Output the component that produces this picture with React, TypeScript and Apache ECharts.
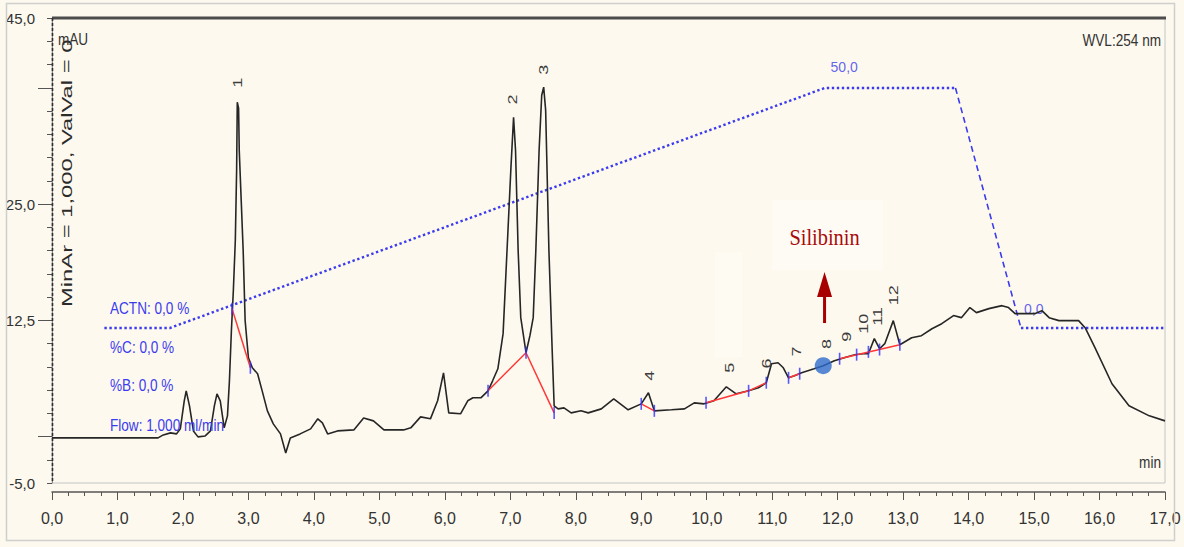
import { useEffect, useRef } from "react";
import * as echarts from "echarts";

// Detector trace (retention time in min, absorbance in mAU)
const retentionTimes = [
  0.0, 1.62, 1.7, 1.81, 1.9, 1.96, 2.02, 2.05, 2.1, 2.16,
  2.23, 2.34, 2.42, 2.48, 2.52, 2.57, 2.63, 2.68, 2.71, 2.74,
  2.77, 2.8, 2.82, 2.83, 2.85, 2.86, 2.89, 2.92, 2.95, 3.0,
  3.06, 3.14, 3.21, 3.29, 3.38, 3.49, 3.57, 3.64, 3.79, 3.95,
  4.06, 4.13, 4.21, 4.36, 4.61, 4.76, 4.91, 5.07, 5.37, 5.48,
  5.63, 5.78, 5.89, 5.98, 6.06, 6.24, 6.35, 6.43, 6.55, 6.66,
  6.73, 6.81, 6.89, 6.95, 7.01, 7.05, 7.08, 7.12, 7.16, 7.24,
  7.3, 7.35, 7.39, 7.44, 7.48, 7.51, 7.54, 7.59, 7.64, 7.67,
  7.73, 7.82, 7.93, 8.08, 8.19, 8.39, 8.58, 8.8, 9.0, 9.11,
  9.2, 9.46, 9.66, 9.81, 9.96, 10.11, 10.3, 10.45, 10.64, 10.79,
  10.91, 10.99, 11.09, 11.17, 11.25, 11.34, 11.45, 11.64, 11.78, 11.95,
  12.1, 12.26, 12.39, 12.47, 12.56, 12.64, 12.72, 12.85, 12.95, 13.13,
  13.28, 13.44, 13.59, 13.77, 13.89, 14.02, 14.12, 14.31, 14.51, 14.61,
  14.71, 14.86, 15.01, 15.12, 15.23, 15.38, 15.68, 15.78, 15.93, 16.19,
  16.45, 16.76, 17.0,
];
const absorbance = [
  -0.15, -0.15, 0.17, 0.39, 0.28, 0.82, 3.84, 4.91, 3.3, 0.6,
  -0.04, 0.06, 0.6, 3.3, 4.59, 3.84, 0.93, 2.22, 5.99, 11.38,
  15.69, 21.08, 28.62, 35.95, 35.3, 30.78, 25.39, 20.0, 12.46, 8.47,
  7.39, 6.75, 4.91, 2.76, 1.36, 0.28, -1.77, -0.15, 0.28, 0.82,
  1.9, 1.47, 0.28, 0.6, 0.71, 2.0, 1.68, 0.71, 0.71, 0.93,
  2.11, 1.9, 3.84, 6.85, 2.54, 2.44, 3.84, 4.16, 4.16, 4.91,
  5.99, 7.28, 11.06, 20.0, 28.94, 34.33, 30.78, 20.0, 12.78, 9.01,
  10.84, 12.78, 20.0, 30.78, 36.7, 37.57, 35.09, 20.0, 9.22, 3.3,
  2.97, 3.08, 2.54, 2.76, 2.54, 2.97, 4.05, 2.87, 3.51, 4.7,
  2.76, 2.87, 2.97, 3.62, 3.51, 3.84, 5.34, 4.59, 4.91, 5.24,
  5.78, 7.82, 7.93, 7.39, 6.31, 6.53, 6.85, 7.28, 7.61, 8.15,
  8.47, 8.79, 8.9, 8.9, 10.52, 9.44, 9.98, 12.46, 9.87, 10.62,
  10.84, 11.59, 12.13, 13.0, 12.78, 13.86, 13.32, 13.75, 14.07, 13.86,
  13.21, 13.21, 13.21, 13.53, 12.78, 12.46, 12.46, 11.7, 9.55, 5.67,
  3.3, 2.22, 1.68,
];

// Solvent gradient program (%B)
const gradientTimes = [0.8, 1.8, 11.8, 13.8, 14.8, 17.0];
const gradientPercent = [0, 0, 50, 50, 0, 0];

// Peak numbering
const peakNames = ["1", "2", "3", "4", "5", "6", "7", "8", "9", "10", "11", "12"];
const peakLabelTimes = [2.83, 7.04, 7.5, 9.12, 10.34, 10.91, 11.37, 11.83, 12.13, 12.39, 12.61, 12.85];
const peakLabelLevels = [37.5, 35.7, 38.9, 6.0, 6.85, 7.3, 8.6, 9.4, 10.2, 11.05, 11.9, 14.1];

// Integration baselines
const baselineTimes = [
  [2.75, 3.03],
  [6.66, 7.24, 7.67],
  [9.0, 9.2],
  [9.99, 10.64, 10.91],
  [11.25, 11.42],
  [12.03, 12.95],
];
const baselineLevels = [
  [13.75, 7.39],
  [4.91, 9.01, 2.54],
  [3.51, 2.76],
  [3.62, 4.91, 5.78],
  [6.31, 6.75],
  [8.36, 9.87],
];

// Peak start/end markers
const markerTimes = [2.75, 3.03, 6.66, 7.24, 7.67, 9.0, 9.2, 9.99, 10.64, 10.91, 11.25, 11.42, 12.03, 12.29, 12.47, 12.64, 12.95];
const markerLevels = [13.75, 7.39, 4.91, 9.01, 2.54, 3.51, 2.76, 3.62, 4.91, 5.78, 6.31, 6.75, 8.36, 8.8, 9.1, 9.35, 9.87];

// Silibinin peak
const silibininTime = 11.78;
const silibininLevel = 7.61;

// Y tick labels shown
const yLabelValues = [-5, 12.5, 25, 45];
const yMajorTicks = [0, 12.5, 25, 37.5];

const SANS = "'Liberation Sans', Arial, sans-serif";
const NARROW = "'Liberation Sans Narrow', 'Arial Narrow', 'Liberation Sans', sans-serif";
const SERIF = "'Liberation Serif', 'Times New Roman', serif";
const BLUE = "#3b3bef";

const GRID_LEFT = 52;
const GRID_TOP = 18;
const GRID_RIGHT = 19;
const GRID_BOTTOM = 64;
const W = 1184;
const H = 547;

const fmt = (v: number) => v.toFixed(1).replace(".", ",");

export default function App() {
  const ref = useRef<HTMLDivElement>(null);

  useEffect(() => {
    if (!ref.current) return;
    const chart = echarts.init(ref.current, null, { renderer: "svg" });

    const gradientPts = gradientTimes.map((t, i) => [t, gradientPercent[i]]);
    const dotted = { color: BLUE, width: 2.4, type: [2.4, 2.6] as number[] };

    const option: any = {
      animation: false,
      backgroundColor: "#fdf9ee",
      grid: {
        left: GRID_LEFT,
        right: GRID_RIGHT,
        top: GRID_TOP,
        bottom: GRID_BOTTOM,
        show: true,
        borderColor: "#c4c4c4",
        borderWidth: 1,
        backgroundColor: "transparent",
      },
      xAxis: {
        type: "value",
        min: 0,
        max: 17,
        interval: 1,
        offset: 9,
        axisLine: { show: true, onZero: false, lineStyle: { color: "#555", width: 1.5 } },
        axisTick: { show: true, length: 8, lineStyle: { color: "#555" } },
        minorTick: { show: true, splitNumber: 4, length: 4, lineStyle: { color: "#555" } },
        axisLabel: {
          margin: 18,
          formatter: (v: number) => fmt(v),
          fontFamily: NARROW,
          fontSize: 16,
          color: "#333",
        },
        splitLine: { show: false },
      },
      yAxis: [
        {
          type: "value",
          position: "left",
          min: -5,
          max: 45,
          interval: 2.5,
          offset: 5,
          axisLine: { show: true, lineStyle: { color: "#888" } },
          axisTick: { show: true, length: 5, lineStyle: { color: "#555" } },
          axisLabel: {
            interval: 0,
            margin: 12,
            formatter: (v: number) => (yLabelValues.includes(v) ? fmt(v) : ""),
            fontFamily: NARROW,
            fontSize: 15,
            color: "#333",
          },
          splitLine: { show: false },
        },
        {
          type: "value",
          position: "left",
          min: -5,
          max: 45,
          offset: 5,
          axisLine: { show: false },
          axisTick: { show: true, length: 9, customValues: yMajorTicks, lineStyle: { color: "#555" } },
          axisLabel: { show: false },
          splitLine: { show: false },
        },
        { type: "value", position: "left", min: -32.3, max: 64.6, show: false },
      ],
      series: [
        {
          type: "line",
          data: gradientPts.slice(0, 4),
          yAxisIndex: 2,
          symbol: "none",
          lineStyle: dotted,
          z: 3,
        },
        {
          type: "line",
          data: gradientPts.slice(3, 5),
          yAxisIndex: 2,
          symbol: "none",
          lineStyle: { color: BLUE, width: 1.6, type: [6, 4] },
          z: 3,
        },
        {
          type: "line",
          data: gradientPts.slice(4),
          yAxisIndex: 2,
          symbol: "none",
          lineStyle: dotted,
          z: 3,
        },
        {
          type: "scatter",
          yAxisIndex: 2,
          symbolSize: 0,
          data: [
            { value: gradientPts[2], label: { position: [6, -21] } },
            { value: gradientPts[4], label: { position: [3, -19] } },
          ],
          label: {
            show: true,
            formatter: (p: any) => fmt(p.value[1]),
            color: BLUE,
            fontFamily: SANS,
            fontSize: 14,
            align: "left",
            verticalAlign: "middle",
          },
          z: 3,
        },
        {
          type: "line",
          data: retentionTimes.map((t, i) => [t, absorbance[i]]),
          symbol: "none",
          lineStyle: { color: "#262626", width: 1.6 },
          z: 4,
        },
        ...baselineTimes.map((ts, k) => ({
          type: "line",
          data: ts.map((t, i) => [t, baselineLevels[k][i]]),
          symbol: "none",
          lineStyle: { color: "#ff3838", width: 1.5 },
          z: 5,
        })),
        {
          type: "scatter",
          data: markerTimes.map((t, i) => [t, markerLevels[i]]),
          symbol: "rect",
          symbolSize: [1.6, 12],
          itemStyle: { color: "#3030ff" },
          z: 6,
        },
        {
          type: "scatter",
          data: [[silibininTime, silibininLevel]],
          symbolSize: 17,
          itemStyle: { color: "#2e6bcd" },
          z: 7,
        },
      ],
    };

    chart.setOption(option);

    const px = (t: number, v: number) =>
      chart.convertToPixel({ xAxisIndex: 0, yAxisIndex: 0 }, [t, v]) as number[];

    const plotRight = W - GRID_RIGHT;
    const plotBottom = H - GRID_BOTTOM;

    const peakTexts = peakNames.map((name, i) => {
      const [x, y] = px(peakLabelTimes[i], peakLabelLevels[i]);
      return {
        type: "text",
        x,
        y,
        rotation: Math.PI / 2,
        scaleY: 0.72,
        z: 20,
        style: {
          text: name,
          fontSize: 18,
          fontFamily: SANS,
          fill: "#3c3c3c",
          align: "left",
          verticalAlign: "middle",
        },
      };
    });

    const [ax, arrowBase] = px(silibininTime + 0.02, 12.2);
    const [, arrowTip] = px(silibininTime + 0.02, 17.7);
    const [tx, ty] = px(silibininTime + 0.02, 21.5);

    const leftNotes = [
      { text: "ACTN: 0,0 %", y: 308 },
      { text: "%C: 0,0 %", y: 347 },
      { text: "%B: 0,0 %", y: 385 },
      { text: "Flow: 1,000 ml/min", y: 425 },
    ];

    chart.setOption({
      graphic: [
        {
          type: "rect",
          shape: { x: 772, y: 200, width: 111, height: 70 },
          style: { fill: "#fefbf4" },
          z: 1,
        },
        {
          type: "rect",
          shape: { x: 715, y: 252, width: 27, height: 105 },
          style: { fill: "#fefbf3" },
          z: 1,
        },
        {
          type: "rect",
          shape: { x: 6.5, y: 3.5, width: 1168, height: 537 },
          style: { fill: "none", stroke: "#cfcfcf", lineWidth: 1.5 },
          z: 10,
        },
        {
          type: "line",
          shape: { x1: GRID_LEFT, y1: GRID_TOP, x2: plotRight + 1, y2: GRID_TOP },
          style: { stroke: "#4d4d4d", lineWidth: 3 },
          z: 10,
        },
        {
          type: "line",
          shape: { x1: GRID_LEFT + 0.5, y1: GRID_TOP, x2: GRID_LEFT + 0.5, y2: plotBottom },
          style: { stroke: "#2e2e2e", lineWidth: 1.6, lineDash: [3, 2] },
          z: 10,
        },
        {
          type: "text",
          x: 67,
          y: 307,
          rotation: Math.PI / 2,
          scaleX: 1.4,
          scaleY: 0.85,
          z: 20,
          style: {
            text: "MinAr = 1,000, ValVal = 0",
            fontSize: 17,
            fontFamily: SANS,
            fill: "#2b2b2b",
            align: "left",
            verticalAlign: "middle",
          },
        },
        {
          type: "text",
          x: 58,
          y: 40,
          scaleX: 0.85,
          z: 20,
          style: { text: "mAU", fontSize: 16, fontFamily: SANS, fill: "#333", align: "left", verticalAlign: "middle" },
        },
        {
          type: "text",
          x: plotRight - 4,
          y: 40,
          scaleX: 0.8,
          z: 20,
          style: { text: "WVL:254 nm", fontSize: 17, fontFamily: SANS, fill: "#333", align: "right", verticalAlign: "middle" },
        },
        {
          type: "text",
          x: plotRight - 4,
          y: 463,
          scaleX: 0.85,
          z: 20,
          style: { text: "min", fontSize: 16, fontFamily: SANS, fill: "#333", align: "right", verticalAlign: "middle" },
        },
        ...leftNotes.map((n) => ({
          type: "text",
          x: 110,
          y: n.y,
          scaleX: 0.8,
          z: 20,
          style: { text: n.text, fontSize: 17, fontFamily: SANS, fill: BLUE, align: "left", verticalAlign: "middle" },
        })),
        ...peakTexts,
        {
          type: "line",
          shape: { x1: ax, y1: arrowBase, x2: ax, y2: arrowTip + 24 },
          style: { stroke: "#a80000", lineWidth: 3 },
          z: 20,
        },
        {
          type: "polygon",
          shape: {
            points: [
              [ax - 7.5, arrowTip + 25],
              [ax + 7.5, arrowTip + 25],
              [ax, arrowTip],
            ],
          },
          style: { fill: "#a80000" },
          z: 20,
        },
        {
          type: "text",
          x: tx,
          y: ty,
          scaleX: 0.85,
          z: 20,
          style: { text: "Silibinin", fontSize: 24, fontFamily: SERIF, fill: "#a80a0a", align: "center", verticalAlign: "middle" },
        },
      ],
    });

    return () => chart.dispose();
  }, []);

  return <div ref={ref} style={{ position: "fixed", left: 0, top: 0, width: W, height: H }} />;
}
